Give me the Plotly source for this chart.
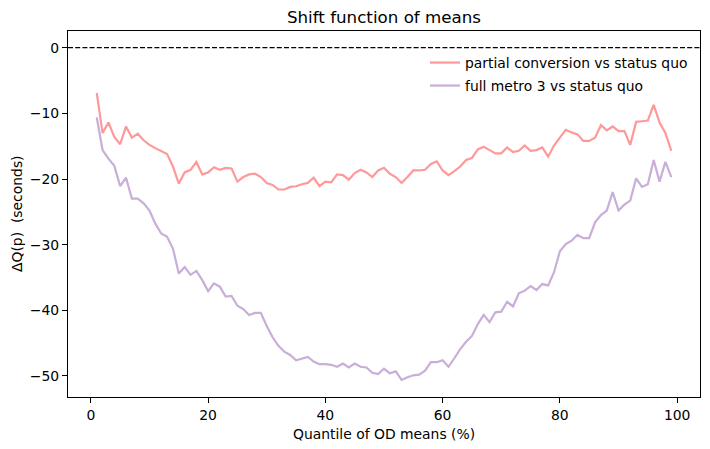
import plotly.graph_objects as go

quantiles = list(range(1, 100))

partial_conversion = [
    -6.9, -13.0, -11.4, -13.6, -14.7, -12.0, -13.7, -13.1, -14.1, -14.8,
    -15.3, -15.7, -16.2, -18.1, -20.7, -19.0, -18.6, -17.4, -19.3, -19.0,
    -18.2, -18.6, -18.3, -18.4, -20.4, -19.7, -19.3, -19.2, -19.7, -20.6,
    -20.9, -21.6, -21.6, -21.2, -21.1, -20.8, -20.6, -19.8, -21.1, -20.4,
    -20.5, -19.3, -19.4, -20.1, -19.1, -18.6, -19.0, -19.7, -18.7, -18.3,
    -19.2, -19.7, -20.6, -19.7, -18.7, -18.7, -18.6, -17.7, -17.3, -18.7,
    -19.4, -18.8, -18.1, -17.1, -16.8, -15.5, -15.1, -15.6, -16.1, -16.1,
    -15.2, -15.9, -15.7, -14.9, -15.7, -15.6, -15.2, -16.6, -14.9, -13.7,
    -12.5, -12.9, -13.2, -14.2, -14.2, -13.7, -11.8, -12.6, -12.0, -12.7,
    -12.7, -14.8, -11.3, -11.2, -11.1, -8.7, -11.4, -13.0, -15.7,
]

full_metro3 = [
    -10.6, -15.6, -16.9, -18.0, -21.1, -19.8, -23.0, -23.0, -23.7, -24.8,
    -26.8, -28.3, -28.8, -30.6, -34.4, -33.4, -34.6, -34.0, -35.4, -37.1,
    -35.9, -36.4, -37.9, -37.8, -39.3, -39.8, -40.7, -40.4, -40.4, -42.4,
    -44.1, -45.4, -46.3, -46.8, -47.6, -47.4, -47.1, -47.8, -48.2, -48.2,
    -48.3, -48.6, -48.1, -48.7, -48.1, -48.6, -48.7, -49.5, -49.7, -48.9,
    -49.6, -49.3, -50.6, -50.2, -49.9, -49.8, -49.2, -47.9, -47.9, -47.6,
    -48.6, -47.3, -45.9, -44.8, -43.9, -42.1, -40.7, -41.8, -40.3, -40.2,
    -38.7, -39.4, -37.4, -37.0, -36.3, -36.9, -36.0, -36.2, -34.2, -31.0,
    -29.9, -29.4, -28.5, -29.0, -29.0, -26.6, -25.5, -24.8, -22.0, -24.8,
    -23.9, -23.3, -19.9, -21.2, -20.8, -17.1, -20.4, -17.4, -19.7,
]

series_names = ["partial conversion vs status quo", "full metro 3 vs status quo"]
series_colors = ["#ff9999", "#c8aed8"]
x_ticks = [0, 20, 40, 60, 80, 100]
y_ticks = [0, -10, -20, -30, -40, -50]

FONT = "DejaVu Sans"
L, R, T, B = 68, 10, 31, 52
W, H = 710, 449
PW, PH = W - L - R, H - T - B

fig = go.Figure()
for name, vals, col, lg in zip(series_names, [partial_conversion, full_metro3],
                               series_colors, ["legend", "legend2"]):
    fig.add_trace(go.Scatter(x=quantiles, y=vals, mode="lines", name=name,
                             line=dict(color=col, width=2.2), legend=lg))

fig.add_shape(type="line", xref="paper", x0=0, x1=1, yref="y", y0=0, y1=0,
              line=dict(color="black", width=1.3, dash="5px,2.2px"))

axis_common = dict(showline=True, linecolor="black", linewidth=1.1, mirror=True,
                   ticks="outside", ticklen=5, tickwidth=1.1, tickcolor="black",
                   showgrid=False, zeroline=False,
                   tickfont=dict(family=FONT, size=13.9, color="black"))

legend_common = dict(xanchor="left", yanchor="top", bgcolor="rgba(0,0,0,0)",
                     borderwidth=0, itemwidth=30,
                     font=dict(family=FONT, size=13.9, color="black"))
leg_x = (425 - L) / PW

fig.update_layout(
    width=W, height=H,
    margin=dict(l=L, r=R, t=T, b=B),
    paper_bgcolor="white", plot_bgcolor="white",
    font=dict(family=FONT, size=13.9, color="black"),
    title=dict(text="Shift function of means", x=(L + W - R) / 2 / W, xanchor="center",
               yref="container", y=1 - 17 / H, yanchor="middle",
               font=dict(family=FONT, size=16.7, color="black")),
    xaxis=dict(range=[-3.9, 103.9], tickvals=x_ticks, **axis_common),
    yaxis=dict(range=[-53.2, 2.54], tickvals=y_ticks, **axis_common),
    showlegend=True,
    legend=dict(x=leg_x, y=1 - (47 - T) / PH, **legend_common),
    legend2=dict(x=leg_x, y=1 - (70 - T) / PH, **legend_common),
    annotations=[
        dict(text="Quantile of OD means (%)", xref="paper", yref="paper",
             x=0.5, y=-(434 - (H - B)) / PH, xanchor="center", yanchor="middle",
             showarrow=False, font=dict(family=FONT, size=13.9, color="black")),
        dict(text="ΔQ(p)  (seconds)", xref="paper", yref="paper",
             x=-(L - 17) / PW, y=0.5, xanchor="center", yanchor="middle",
             textangle=-90, showarrow=False,
             font=dict(family=FONT, size=13.9, color="black")),
    ],
)

fig.write_html("out.html", config={"displayModeBar": False},
               post_script="document.body.style.margin='0';")
